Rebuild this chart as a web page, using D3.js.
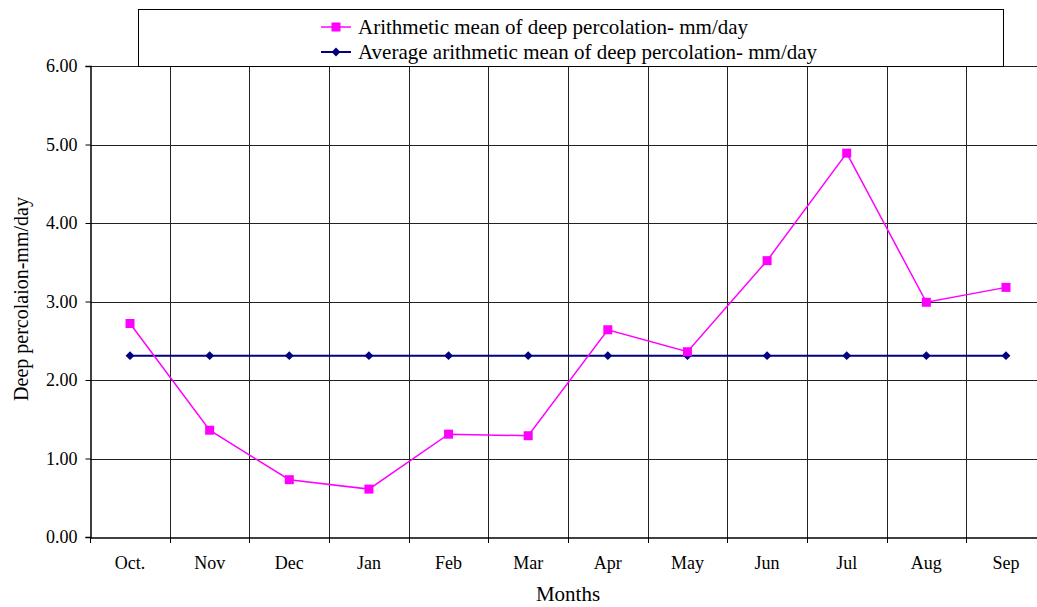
<!DOCTYPE html>
<html><head><meta charset="utf-8">
<script src="https://cdn.jsdelivr.net/npm/d3@7"></script>
<style>body{margin:0;background:#fff}svg{display:block}</style>
</head><body>
<svg id="c" width="1037" height="607"></svg>
<script>
const months = ["Oct.","Nov","Dec","Jan","Feb","Mar","Apr","May","Jun","Jul","Aug","Sep"];
const meanValues = [2.72,1.36,0.73,0.61,1.31,1.29,2.64,2.36,3.52,4.89,2.99,3.18];
const avgValues = [2.31,2.31,2.31,2.31,2.31,2.31,2.31,2.31,2.31,2.31,2.31,2.31];
const yTicks = [0,1,2,3,4,5,6];
const seriesNames = ["Arithmetic mean of deep percolation- mm/day","Average arithmetic mean of deep percolation- mm/day"];

const svg = d3.select("#c");
const font = "'Liberation Serif','Times New Roman',serif";
const m = {l:90.2, r:1045.8, t:66, b:537};
const x = d3.scaleBand().domain(months).range([m.l, m.r]).padding(0);
const y = d3.scaleLinear().domain([0,6]).range([m.b, m.t]);
const cx = d => x(d) + x.bandwidth()/2;

// horizontal gridlines
svg.append("g").selectAll("line").data(yTicks.filter(v=>v>0)).join("line")
  .attr("x1", m.l).attr("x2", m.r)
  .attr("y1", d=>Math.round(y(d))+0.5).attr("y2", d=>Math.round(y(d))+0.5)
  .attr("stroke","#222").attr("stroke-width",1);
// vertical gridlines
svg.append("g").selectAll("line").data(months.slice(1)).join("line")
  .attr("x1", d=>Math.round(x(d))+0.5).attr("x2", d=>Math.round(x(d))+0.5)
  .attr("y1", m.t).attr("y2", m.b)
  .attr("stroke","#222").attr("stroke-width",1);

// y axis
const yAxis = d3.axisLeft(y).tickValues(yTicks).tickFormat(d3.format(".2f")).tickSize(5).tickPadding(8);
const ya = svg.append("g").attr("transform",`translate(${Math.round(m.l)+0.5},0)`).call(yAxis);
ya.selectAll("text").attr("font-family",font).attr("font-size","18px").attr("fill","#000");
ya.selectAll("line,path").attr("stroke","#000");
ya.select(".domain").attr("stroke-width",1.5);

// x axis
const xAxis = d3.axisBottom(x).tickSize(0).tickPadding(19);
const xa = svg.append("g").attr("transform",`translate(0,${m.b+0.5})`).call(xAxis);
xa.selectAll("text").attr("font-family",font).attr("font-size","18px").attr("fill","#000");
xa.select(".domain").attr("stroke","#000").attr("stroke-width",1.5);
svg.append("g").selectAll("line").data(months.slice(1).map(d=>x(d)).concat([m.l])).join("line")
  .attr("x1",d=>Math.round(d)+0.5).attr("x2",d=>Math.round(d)+0.5)
  .attr("y1",m.b).attr("y2",m.b+6).attr("stroke","#000");

// axis titles
svg.append("text").attr("x",568).attr("y",601).attr("text-anchor","middle")
  .attr("font-family",font).attr("font-size","21px").text("Months");
svg.append("text").attr("transform",`translate(28,299) rotate(-90)`).attr("text-anchor","middle")
  .attr("font-family",font).attr("font-size","20px").text("Deep percolaion-mm/day");

// series
const line = d3.line().x((d,i)=>cx(months[i])).y(d=>y(d));
svg.append("path").datum(avgValues).attr("d",line).attr("fill","none").attr("stroke","#000080").attr("stroke-width",2);
svg.append("g").selectAll("path").data(avgValues).join("path")
  .attr("d", d3.symbol(d3.symbolDiamond2, 50))
  .attr("transform",(d,i)=>`translate(${cx(months[i])},${y(d)})`).attr("fill","#000080");
svg.append("path").datum(meanValues).attr("d",line).attr("fill","none").attr("stroke","#FF00FF").attr("stroke-width",1.5);
svg.append("g").selectAll("rect").data(meanValues).join("rect")
  .attr("x",(d,i)=>cx(months[i])-4.5).attr("y",d=>y(d)-4.5).attr("width",9).attr("height",9).attr("fill","#FF00FF");

// legend
const lg = svg.append("g");
lg.append("rect").attr("x",138.5).attr("y",9.5).attr("width",865).attr("height",57).attr("fill","#fff").attr("stroke","#000").attr("stroke-width",1);
const ly = [27, 52];
lg.append("line").attr("x1",321).attr("x2",351).attr("y1",ly[0]).attr("y2",ly[0]).attr("stroke","#FF00FF").attr("stroke-width",1.5);
lg.append("rect").attr("x",331.5).attr("y",ly[0]-4.5).attr("width",9).attr("height",9).attr("fill","#FF00FF");
lg.append("line").attr("x1",321).attr("x2",351).attr("y1",ly[1]).attr("y2",ly[1]).attr("stroke","#000080").attr("stroke-width",2);
lg.append("path").attr("d",d3.symbol(d3.symbolDiamond2,50)).attr("transform",`translate(336,${ly[1]})`).attr("fill","#000080");
lg.selectAll("text").data(seriesNames).join("text")
  .attr("x",358).attr("y",(d,i)=>ly[i]+7).attr("font-family",font).attr("font-size","21px").text(d=>d);
</script>
</body></html>
